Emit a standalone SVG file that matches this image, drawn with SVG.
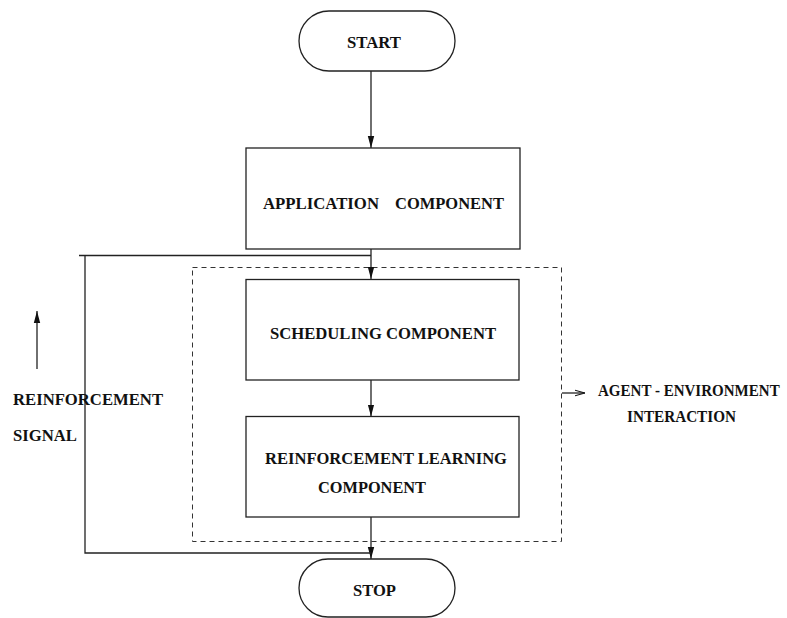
<svg xmlns="http://www.w3.org/2000/svg" width="787" height="618" viewBox="0 0 787 618">
  <style>
    .box { fill: #ffffff; stroke: #222222; stroke-width: 1.3; }
    .line { fill: none; stroke: #222222; stroke-width: 1.3; }
    .dash { fill: none; stroke: #333333; stroke-width: 1; stroke-dasharray: 5 4; }
    .lbl { font-family: "Liberation Serif", "Times New Roman", serif; font-weight: bold; font-size: 16.6px; fill: #111111; }
  </style>
  <defs>
    <marker id="arrow" viewBox="0 0 12 8" refX="12" refY="4" markerWidth="12" markerHeight="8" markerUnits="userSpaceOnUse" orient="auto">
      <path d="M0,0.8 L12,4 L0,7.2 Z" fill="#111111"/>
    </marker>
    <marker id="openArrow" viewBox="0 0 10 8" refX="10" refY="4" markerWidth="10" markerHeight="8" markerUnits="userSpaceOnUse" orient="auto">
      <path d="M0,1.2 L10,4 L0,6.8" fill="none" stroke="#111111" stroke-width="1.1"/>
    </marker>
  </defs>

  <!-- agent-environment boundary -->
  <rect class="dash" x="192.5" y="267.5" width="369" height="274"/>

  <!-- connectors -->
  <g id="connectors">
    <line class="line" x1="371" y1="71" x2="371" y2="148" marker-end="url(#arrow)"/>
    <line class="line" x1="371" y1="249" x2="371" y2="279" marker-end="url(#arrow)"/>
    <line class="line" x1="371" y1="380" x2="371" y2="416.5" marker-end="url(#arrow)"/>
    <line class="line" x1="371" y1="517" x2="371" y2="559" marker-end="url(#arrow)"/>
    <!-- feedback loop -->
    <polyline class="line" points="79,255.5 371,255.5"/>
    <polyline class="line" points="85,255.5 85,553 371,553"/>
    <!-- reinforcement signal direction -->
    <line class="line" x1="37" y1="369" x2="37" y2="311" marker-end="url(#arrow)"/>
    <!-- boundary pointer -->
    <line class="line" x1="562" y1="393" x2="585" y2="393" stroke-width="1" marker-end="url(#openArrow)"/>
  </g>

  <g id="start">
    <rect class="box" x="299" y="11" width="156" height="60" rx="30" ry="30"/>
    <text class="lbl" x="347" y="48" textLength="54" lengthAdjust="spacingAndGlyphs">START</text>
  </g>

  <g id="application">
    <rect class="box" x="246" y="148" width="274" height="101"/>
    <text class="lbl" x="263" y="209" textLength="116" lengthAdjust="spacingAndGlyphs">APPLICATION</text>
    <text class="lbl" x="395" y="209" textLength="109" lengthAdjust="spacingAndGlyphs">COMPONENT</text>
  </g>

  <g id="scheduling">
    <rect class="box" x="246" y="279.5" width="273" height="100.5"/>
    <text class="lbl" x="270" y="339" textLength="226" lengthAdjust="spacingAndGlyphs">SCHEDULING COMPONENT</text>
  </g>

  <g id="rl">
    <rect class="box" x="246" y="416.5" width="273" height="100.5"/>
    <text class="lbl" x="265" y="464" textLength="242" lengthAdjust="spacingAndGlyphs">REINFORCEMENT LEARNING</text>
    <text class="lbl" x="318" y="493" textLength="108" lengthAdjust="spacingAndGlyphs">COMPONENT</text>
  </g>

  <g id="stop">
    <rect class="box" x="299" y="559" width="156" height="58" rx="29" ry="29"/>
    <text class="lbl" x="353" y="596" textLength="43" lengthAdjust="spacingAndGlyphs">STOP</text>
  </g>

  <g id="signal-label">
    <text class="lbl" x="13" y="405" textLength="150" lengthAdjust="spacingAndGlyphs">REINFORCEMENT</text>
    <text class="lbl" x="13" y="441" textLength="64" lengthAdjust="spacingAndGlyphs">SIGNAL</text>
  </g>

  <g id="agent-label">
    <!-- condensed horizontally so the label sits inside the right margin -->
    <text class="lbl" transform="translate(598,396) scale(0.905,1)">AGENT - ENVIRONMENT</text>
    <text class="lbl" x="627" y="422" textLength="109" lengthAdjust="spacingAndGlyphs">INTERACTION</text>
  </g>
</svg>
